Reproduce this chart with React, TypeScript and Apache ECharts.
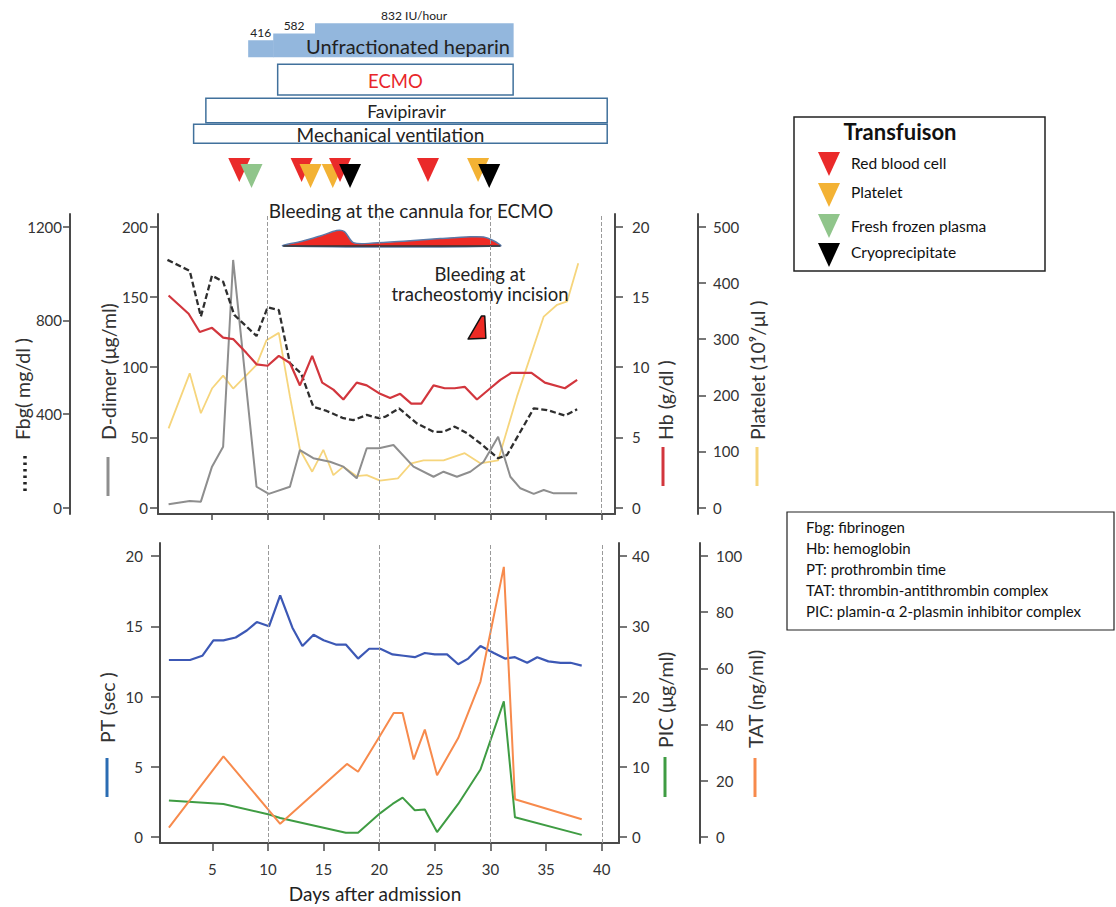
import React, { useEffect, useRef } from 'react';
import * as echarts from 'echarts';

const FONT = 'Lato, "Open Sans", "DejaVu Sans", sans-serif';

// ---------- axes ----------
const dayTicks = [5, 10, 15, 20, 25, 30, 35, 40];
const guideDays = [10, 20, 30, 40];
const ddimerTicks = [0, 50, 100, 150, 200];
const fbgTicks = [0, 400, 800, 1200];
const hbTicks = [0, 5, 10, 15, 20];
const plateletTicks = [0, 100, 200, 300, 400, 500];
const ptTicks = [0, 5, 10, 15, 20];
const picTicks = [0, 10, 20, 30, 40];
const tatTicks = [0, 20, 40, 60, 80, 100];

// ---------- upper panel: [day, value] ----------
const fbgSeries = [[1, 1058], [3, 1011], [4, 816], [5, 991], [6, 965], [7, 823], [9, 733], [10, 856], [11, 844], [12, 617], [13, 574], [14.1, 431], [15.3, 413], [16.8, 382], [17.7, 374], [18.9, 396], [20, 382], [20.6, 389], [21.8, 424], [23.4, 360], [24.9, 324], [25.8, 324], [26.8, 346], [27.9, 318], [29.1, 275], [30.7, 211], [31.5, 225], [33.9, 424], [35.1, 417], [36.7, 393], [37.8, 420]];
const ddimerSeries = [[1.1, 2.4], [3, 4.8], [4, 4.3], [5, 29.2], [6, 43.4], [6.9, 176.3], [9, 14.9], [10.1, 9.8], [12, 14.9], [12.9, 41], [14.1, 35.2], [15.6, 32.7], [16.8, 29.2], [18, 20.9], [18.9, 42.3], [20, 42.3], [21.3, 44.6], [23.1, 29.2], [24.9, 22], [25.8, 25.6], [27, 22], [28.2, 25.6], [29.4, 32.7], [30.7, 50.5], [31.8, 22], [32.7, 13.8], [33.9, 9.8], [34.8, 12.6], [35.7, 10.2], [37.8, 10.2]];
const hbSeries = [[1.1, 15.1], [2.9, 13.8], [3.9, 12.5], [5, 12.8], [6, 12.1], [6.9, 12], [8.1, 11], [9, 10.2], [10, 10.1], [11, 10.8], [12, 10.3], [12.9, 8.7], [14, 10.8], [14.9, 8.9], [15.9, 8.4], [16.8, 7.7], [18, 8.9], [18.9, 8.7], [20.1, 8.1], [21, 7.8], [21.9, 8.1], [22.9, 7.4], [23.8, 7.4], [24.9, 8.7], [25.9, 8.5], [26.8, 8.5], [27.7, 8.6], [28.8, 7.7], [30, 8.5], [30.9, 9.1], [31.9, 9.6], [33.7, 9.6], [34.9, 8.9], [36.7, 8.5], [37.8, 9.1]];
const plateletSeries = [[1.1, 141], [3, 239], [4, 168], [5, 212], [6, 235], [6.9, 212], [8.1, 236], [9, 254], [9.9, 298], [11, 311], [12, 198], [12.9, 103], [14, 64], [15, 103], [15.9, 58], [16.8, 73], [18, 56], [18.9, 58], [20.1, 48], [21.7, 52], [22.9, 79], [24, 84], [25.8, 84], [27.7, 97], [29.1, 79], [30.7, 84], [32.4, 198], [34.8, 340], [36, 361], [36.9, 367], [37.9, 435]];

// ---------- lower panel ----------
const ptSeries = [[1.1, 12.6], [3, 12.6], [4.1, 12.9], [5.1, 14], [6, 14], [7.1, 14.2], [8.1, 14.7], [9, 15.3], [10.1, 15], [11.1, 17.2], [12.2, 14.9], [13.1, 13.6], [14.1, 14.4], [15, 14], [16.1, 13.7], [17, 13.7], [18.1, 12.7], [19.1, 13.4], [20.1, 13.4], [21.2, 13], [22.2, 12.9], [23.2, 12.8], [24.1, 13.1], [25, 13], [26.1, 13], [27.1, 12.3], [28, 12.7], [29.1, 13.6], [30.3, 13.1], [31.3, 12.7], [32.2, 12.8], [33.3, 12.4], [34.2, 12.8], [35.2, 12.5], [36.3, 12.4], [37.2, 12.4], [38.2, 12.2]];
const picSeries = [[1.1, 5.2], [6, 4.7], [10.1, 3.2], [11.1, 2.7], [17, 0.6], [18.1, 0.6], [20.1, 3.4], [21.2, 4.7], [22.1, 5.6], [23.2, 3.8], [24.1, 3.9], [25.2, 0.7], [27.1, 4.7], [29.1, 9.6], [31.2, 19.3], [32.2, 2.8], [38.2, 0.3]];
const tatSeries = [[1.1, 3.3], [6, 28.7], [11.1, 4.7], [17.1, 26], [18.1, 23.2], [20.1, 36.2], [21.3, 44.1], [22.1, 44.1], [23.1, 27.6], [24.1, 38.2], [25.2, 22], [27.1, 35.2], [29.1, 55.3], [31.2, 96.1], [32.2, 13.4], [38.2, 6.3]];

// ---------- treatments ----------
const heparinStart = [8.25, 10.5, 14.25];
const heparinEnd = [10.5, 14.25, 32.05];
const heparinDose = [416, 582, 832];
const treatmentNames = ['ECMO', 'Favipiravir', 'Mechanical ventilation'];
const treatmentStart = [10.9, 4.45, 3.35];
const treatmentEnd = [32.05, 40.5, 40.5];

// ---------- transfusions ----------
const transfusionNames = ['Red blood cell', 'Platelet', 'Fresh frozen plasma', 'Cryoprecipitate'];
const rbcDays = [7.45, 13.05, 16.5, 24.4];
const plateletTxDays = [13.85, 15.85, 28.9];
const ffpDays = [8.55];
const cryoDays = [17.4, 29.9];

// ---------- bleeding events (day, D-dimer-axis height) ----------
const cannulaBleed = [[11.4, 186.3], [13, 189.5], [14.8, 193.5], [16.2, 197.3], [16.9, 196.5], [17.7, 188.6], [19.5, 188.3], [22.5, 189.8], [25.5, 191.5], [28.2, 192.8], [29.4, 192.6], [30.2, 190.3], [30.9, 186.3]];
const tracheoBleed = [[28, 120], [29.2, 136.4], [29.5, 136.4], [29.6, 120.5]];

const abbreviations = ['Fbg: fibrinogen', 'Hb: hemoglobin', 'PT: prothrombin time', 'TAT: thrombin-antithrombin complex', 'PIC: plamin-α 2-plasmin inhibitor complex'];

// ---------- styles ----------
const AX = '#4a4a4a';
const C_DD = '#8e8e8e';
const C_FBG = '#2e2e2e';
const C_HB = '#d2363d';
const C_PLT = '#f6d57c';
const C_PT = '#3c58b5';
const C_PIC = '#3f9c43';
const C_TAT = '#f78a4c';
const C_PT_KEY = '#2a6cb3';
const TX_COLORS = ['#ea2a2a', '#f3b234', '#90c58b', '#000000'];

function yAx(gridIndex: number, position: string, offset: number, min: number, max: number, ticks: number[], tickLen: number, margin: number) {
  return {
    type: 'value', gridIndex, position, offset, min, max,
    splitLine: { show: false },
    axisLine: { show: true, onZero: false, lineStyle: { color: AX, width: 2 } },
    axisTick: { show: true, inside: false, length: tickLen, customValues: ticks, lineStyle: { color: AX, width: 1.5 } },
    axisLabel: { show: true, customValues: ticks, margin, fontSize: 15, color: '#333', fontFamily: FONT, formatter: (v: number) => String(v) },
  };
}

function buildTransfusions() {
  const items: { day: number; type: number }[] = [];
  [rbcDays, plateletTxDays, ffpDays, cryoDays].forEach((arr, t) => arr.forEach((d) => items.push({ day: d, type: t })));
  items.sort((a, b) => a.day - b.day);
  return items.map((it, i) => {
    const prev = items[i - 1];
    const next = items[i + 1];
    let lower = 0;
    if (it.type !== 0) {
      if (prev && it.day - prev.day < 1.2) lower = 1;
      if (next && next.type === 0 && next.day - it.day < 1.2) lower = 1;
    }
    return [it.day, it.type, lower];
  });
}

const HEP_BASE = 57.3;
const HEP_SCALE = 0.041;
const TREAT_ROWS = [
  { top: 64.3, h: 30.7, color: '#e8262b', fs: 18.5, dx: 0 },
  { top: 98.3, h: 24.4, color: '#222', fs: 17.5, dx: 0 },
  { top: 124.3, h: 19, color: '#222', fs: 19, dx: -10 },
];

function renderHeparin(params: any, api: any) {
  const x0 = api.coord([api.value(0), 0])[0];
  const x1 = api.coord([api.value(1), 0])[0];
  const dose = api.value(2);
  const top = HEP_BASE - dose * HEP_SCALE;
  const last = params.dataIndex === heparinDose.length - 1;
  return {
    type: 'group',
    children: [
      { type: 'rect', shape: { x: x0, y: top, width: x1 - x0 + 0.5, height: HEP_BASE - top }, style: { fill: '#93b7dd' } },
      { type: 'text', x: (x0 + x1) / 2, y: top - 8, style: { text: last ? `${dose} IU/hour` : String(dose), fontSize: 12, fill: '#222', align: 'center', verticalAlign: 'middle', fontFamily: FONT } },
    ],
  };
}

function renderTreatment(params: any, api: any) {
  const x0 = api.coord([api.value(0), 0])[0];
  const x1 = api.coord([api.value(1), 0])[0];
  const i = api.value(2);
  const row = TREAT_ROWS[i];
  return {
    type: 'group',
    children: [
      { type: 'rect', shape: { x: x0, y: row.top, width: x1 - x0, height: row.h }, style: { fill: '#fff', stroke: '#41719c', lineWidth: 1.5 } },
      { type: 'text', x: (x0 + x1) / 2 + row.dx, y: row.top + row.h / 2 + 1, style: { text: treatmentNames[i], fill: row.color, fontSize: row.fs, align: 'center', verticalAlign: 'middle', fontFamily: FONT } },
    ],
  };
}

function renderTransfusion(params: any, api: any) {
  const cx = api.coord([api.value(0), 0])[0];
  const type = api.value(1);
  const top = api.value(2) ? 164 : 158;
  return { type: 'polygon', shape: { points: [[cx - 11, top], [cx + 11, top], [cx, top + 24]] }, style: { fill: TX_COLORS[type] } };
}

function renderCannula(params: any, api: any) {
  const pts = cannulaBleed.map((p) => api.coord(p));
  const first = pts[0];
  const last = pts[pts.length - 1];
  return {
    type: 'group',
    children: [
      { type: 'polygon', shape: { points: pts, smooth: 0.3 }, style: { fill: '#ee2a24', stroke: '#5b7aa8', lineWidth: 1.5 } },
      { type: 'line', shape: { x1: first[0], y1: first[1], x2: last[0], y2: last[1] }, style: { stroke: '#333', lineWidth: 1.5 } },
    ],
  };
}

function renderTracheo(params: any, api: any) {
  const pts = tracheoBleed.map((p) => api.coord(p));
  return { type: 'polygon', shape: { points: pts }, style: { fill: '#ee2a24', stroke: '#111', lineWidth: 1.5, lineJoin: 'round' } };
}

function vTitle(text: string, x: number, y: number) {
  return { type: 'text', x, y, rotation: Math.PI / 2, style: { text, fontSize: 19.5, fill: '#333', align: 'left', verticalAlign: 'middle', fontFamily: FONT } };
}
function key(x: number, y1: number, y2: number, color: string) {
  return { type: 'line', shape: { x1: x, y1, x2: x, y2 }, style: { stroke: color, lineWidth: 3 } };
}
function label(text: string, x: number, y: number, fontSize: number, extra: any = {}) {
  return { type: 'text', x, y, z: 10, style: { text, fontSize, fill: '#222', align: 'center', verticalAlign: 'middle', fontFamily: FONT, ...extra } };
}

function buildOption() {
  const guideLine = {
    symbol: 'none', silent: true, label: { show: false },
    lineStyle: { type: 'dashed', color: '#9a9a9a', width: 1 },
    data: guideDays.map((d) => ({ xAxis: d })),
  };
  const legendTop = [152, 183, 214, 243];
  const legendLabelY = [163, 192, 226, 252];

  const graphic: any[] = [
    vTitle('Fbg( mg/dl )', 22, 440),
    vTitle('D-dimer (μg/ml)', 108, 440),
    vTitle('Hb (g/dl )', 665, 440),
    vTitle('Platelet (10⁹/μl )', 757, 440),
    vTitle('PT (sec )', 107, 743),
    vTitle('PIC (μg/ml)', 665, 748),
    vTitle('TAT (ng/ml)', 755, 748),
    { type: 'line', shape: { x1: 25, y1: 456, x2: 25, y2: 493 }, style: { stroke: '#222', lineWidth: 3.5, lineDash: [2.5, 4] } },
    key(108, 457, 496, C_DD),
    key(663, 447, 486, C_HB),
    key(757, 447, 486, C_PLT),
    key(107, 758, 797, C_PT_KEY),
    key(665, 757, 797, C_PIC),
    key(755, 758, 797, C_TAT),
    label('Unfractionated heparin', 408, 46, 20),
    label('Bleeding at the cannula for ECMO', 411, 210, 19),
    label('Bleeding at', 480, 274, 18.5),
    label('tracheostomy incision', 480, 294, 18.5),
    label('Days after admission', 375, 893, 19),
    // transfusion legend
    { type: 'rect', shape: { x: 794, y: 117, width: 251, height: 154 }, style: { fill: 'none', stroke: '#222', lineWidth: 1.5 } },
    label('Transfuison', 900, 131, 22, { fontWeight: 'bold', fill: '#111' }),
    ...transfusionNames.flatMap((n, i) => [
      { type: 'polygon', shape: { points: [[818, legendTop[i]], [840, legendTop[i]], [829, legendTop[i] + 24]] }, style: { fill: TX_COLORS[i] } },
      label(n, 851, legendLabelY[i], 15.5, { align: 'left', fill: '#111' }),
    ]),
    // abbreviations
    { type: 'rect', shape: { x: 787, y: 512, width: 327, height: 118 }, style: { fill: 'none', stroke: '#222', lineWidth: 1.2 } },
    ...abbreviations.map((t, i) => label(t, 806, 527 + 21 * i, 15, { align: 'left', fill: '#111' })),
  ];

  return {
    animation: false,
    backgroundColor: '#fff',
    textStyle: { fontFamily: FONT },
    grid: [
      { left: 158, width: 457, top: 0, height: 200 },
      { left: 158, width: 457, top: 214, height: 300 },
      { left: 160, width: 459, top: 543, height: 300 },
    ],
    xAxis: [
      { type: 'value', gridIndex: 0, min: 0.15, max: 41.2, show: false },
      {
        type: 'value', gridIndex: 1, min: 0.15, max: 41.2, splitLine: { show: false },
        axisLine: { onZero: false, lineStyle: { color: AX, width: 2 } },
        axisTick: { show: true, customValues: dayTicks, length: 6, lineStyle: { color: AX, width: 1.5 } },
        axisLabel: { show: false },
      },
      {
        type: 'value', gridIndex: 2, min: 0.3, max: 41.55, splitLine: { show: false },
        axisLine: { onZero: false, lineStyle: { color: AX, width: 2 } },
        axisTick: { show: true, customValues: dayTicks, length: 8, lineStyle: { color: AX, width: 1.5 } },
        axisLabel: { customValues: dayTicks, fontSize: 15, color: '#333', margin: 18, fontFamily: FONT },
      },
    ],
    yAxis: [
      { type: 'value', gridIndex: 0, min: 0, max: 10, show: false },
      yAx(1, 'left', 0, -4.5, 209, ddimerTicks, 8, 10),
      yAx(1, 'left', 88, -27, 1254, fbgTicks, 7, 8),
      yAx(1, 'right', 0, -0.45, 20.9, hbTicks, 8, 17),
      yAx(1, 'right', 83, -11.25, 522.5, plateletTicks, 8, 15),
      yAx(2, 'left', 0, -0.43, 20.93, ptTicks, 9, 17),
      yAx(2, 'right', 0, -0.86, 41.86, picTicks, 8, 13),
      yAx(2, 'right', 81, -2.14, 104.6, tatTicks, 8, 16),
    ],
    graphic,
    series: [
      { type: 'custom', xAxisIndex: 0, yAxisIndex: 0, clip: false, silent: true, z: 1, renderItem: renderHeparin, encode: { x: [0, 1] }, data: heparinStart.map((s, i) => [s, heparinEnd[i], heparinDose[i]]) },
      { type: 'custom', xAxisIndex: 0, yAxisIndex: 0, clip: false, silent: true, renderItem: renderTreatment, encode: { x: [0, 1] }, data: treatmentStart.map((s, i) => [s, treatmentEnd[i], i]) },
      { type: 'custom', xAxisIndex: 0, yAxisIndex: 0, clip: false, silent: true, renderItem: renderTransfusion, encode: { x: 0 }, data: buildTransfusions() },
      { type: 'custom', xAxisIndex: 1, yAxisIndex: 1, clip: false, silent: true, renderItem: renderCannula, encode: { x: 0, y: 1 }, data: [cannulaBleed[0]] },
      { type: 'custom', xAxisIndex: 1, yAxisIndex: 1, clip: false, silent: true, renderItem: renderTracheo, encode: { x: 0, y: 1 }, data: [tracheoBleed[0]] },
      { name: 'Platelet', type: 'line', xAxisIndex: 1, yAxisIndex: 4, data: plateletSeries, symbol: 'none', lineStyle: { color: C_PLT, width: 1.8 }, z: 2 },
      { name: 'D-dimer', type: 'line', xAxisIndex: 1, yAxisIndex: 1, data: ddimerSeries, symbol: 'none', lineStyle: { color: C_DD, width: 2 }, z: 3, markLine: guideLine },
      { name: 'Fbg', type: 'line', xAxisIndex: 1, yAxisIndex: 2, data: fbgSeries, symbol: 'none', lineStyle: { color: C_FBG, width: 2.3, type: [6, 3] }, z: 4 },
      { name: 'Hb', type: 'line', xAxisIndex: 1, yAxisIndex: 3, data: hbSeries, symbol: 'none', lineStyle: { color: C_HB, width: 2.2 }, z: 5 },
      { name: 'PT', type: 'line', xAxisIndex: 2, yAxisIndex: 5, data: ptSeries, symbol: 'none', lineStyle: { color: C_PT, width: 2.2 }, z: 3, markLine: guideLine },
      { name: 'PIC', type: 'line', xAxisIndex: 2, yAxisIndex: 6, data: picSeries, symbol: 'none', lineStyle: { color: C_PIC, width: 2 }, z: 3 },
      { name: 'TAT', type: 'line', xAxisIndex: 2, yAxisIndex: 7, data: tatSeries, symbol: 'none', lineStyle: { color: C_TAT, width: 2 }, z: 4 },
    ],
  };
}

export default function App() {
  const ref = useRef<HTMLDivElement>(null);
  useEffect(() => {
    if (!ref.current) return;
    const chart = echarts.init(ref.current, undefined, { renderer: 'svg' });
    chart.setOption(buildOption() as any);
    return () => chart.dispose();
  }, []);
  return <div ref={ref} style={{ position: 'fixed', left: 0, top: 0, width: 1116, height: 907, background: '#fff' }} />;
}
